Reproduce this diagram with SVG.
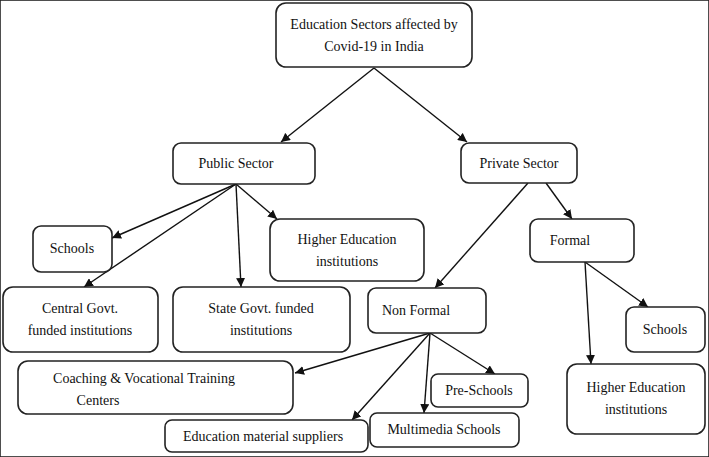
<svg xmlns="http://www.w3.org/2000/svg" width="709" height="457" viewBox="0 0 709 457">
<style>
rect{fill:#fff;stroke:#222;stroke-width:1.6}
text{font-family:"Liberation Serif","Times New Roman","DejaVu Serif",serif;font-size:14px;fill:#111;text-anchor:middle}
line{stroke:#111;stroke-width:1.4;marker-end:url(#a)}
</style>
<defs><marker id="a" viewBox="0 0 10 10" refX="10" refY="5" markerWidth="9" markerHeight="9" markerUnits="userSpaceOnUse" orient="auto"><path d="M0,0L10,5L0,10z" fill="#111"/></marker></defs>
<rect width="709" height="457" fill="#fff" stroke="none"/>
<g id="connectors">
<line x1="374" y1="68" x2="281" y2="142"/>
<line x1="374" y1="68" x2="467" y2="142"/>
<line x1="236" y1="184" x2="112" y2="238"/>
<line x1="236" y1="184" x2="84" y2="287"/>
<line x1="236" y1="184" x2="241" y2="287"/>
<line x1="236" y1="184" x2="277" y2="219"/>
<line x1="528" y1="183" x2="435" y2="288"/>
<line x1="546" y1="183" x2="572" y2="219"/>
<line x1="585" y1="262" x2="648" y2="307"/>
<line x1="585" y1="262" x2="591" y2="364"/>
<line x1="430" y1="333" x2="295" y2="373"/>
<line x1="430" y1="333" x2="352" y2="420"/>
<line x1="430" y1="333" x2="424" y2="413"/>
<line x1="430" y1="333" x2="495" y2="374"/>
</g>
<g id="root"><rect x="276" y="3" width="196" height="64" rx="10"/><text x="374" y="29">Education Sectors affected by</text><text x="374" y="51">Covid-19  in India</text></g>
<g id="public"><rect x="173" y="143" width="142" height="41" rx="8"/><text x="236" y="168">Public Sector</text></g>
<g id="private"><rect x="461" y="143" width="116" height="40" rx="8"/><text x="519" y="168">Private Sector</text></g>
<g id="schools1"><rect x="33" y="226" width="79" height="46" rx="8"/><text x="72" y="253">Schools</text></g>
<g id="higher1"><rect x="270" y="219" width="154" height="62" rx="10"/><text x="347" y="244">Higher Education</text><text x="347" y="266">institutions</text></g>
<g id="central"><rect x="3" y="287" width="155" height="65" rx="10"/><text x="80" y="313">Central Govt.</text><text x="80" y="335">funded institutions</text></g>
<g id="state"><rect x="173" y="287" width="177" height="65" rx="10"/><text x="261" y="313">State Govt. funded</text><text x="261" y="335">institutions</text></g>
<g id="formal"><rect x="530" y="219" width="104" height="43" rx="8"/><text x="570" y="245">Formal</text></g>
<g id="nonformal"><rect x="368" y="288" width="118" height="45" rx="8"/><text x="416" y="315">Non Formal</text></g>
<g id="schools2"><rect x="626" y="307" width="79" height="45" rx="8"/><text x="665" y="334">Schools</text></g>
<g id="coaching"><rect x="18" y="361" width="275" height="53" rx="10"/><text x="144" y="383">Coaching &amp; Vocational Training</text><text x="98" y="405">Centers</text></g>
<g id="preschools"><rect x="431" y="374" width="97" height="33" rx="7"/><text x="479" y="395">Pre-Schools</text></g>
<g id="higher2"><rect x="567" y="364" width="138" height="70" rx="10"/><text x="636" y="392">Higher Education</text><text x="636" y="414">institutions</text></g>
<g id="material"><rect x="165" y="420" width="203" height="32" rx="7"/><text x="263" y="441">Education material  suppliers</text></g>
<g id="multimedia"><rect x="370" y="413" width="149" height="34" rx="7"/><text x="444" y="434">Multimedia  Schools</text></g>
</svg>
